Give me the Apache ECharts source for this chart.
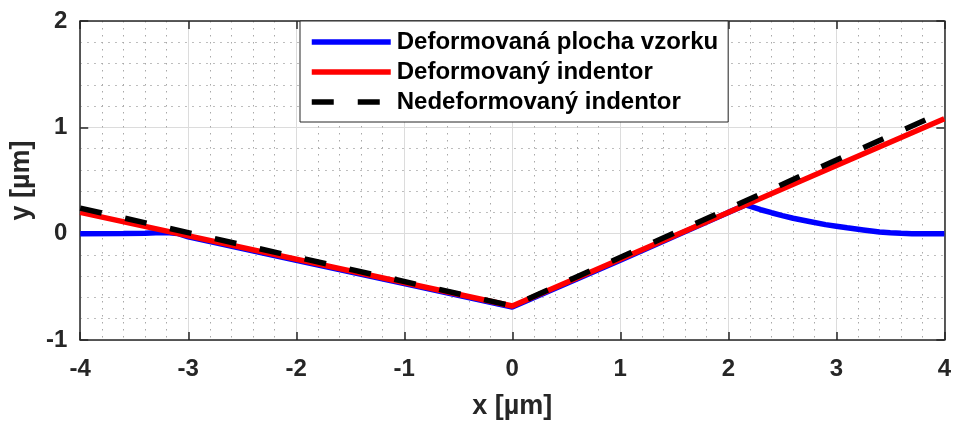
<!DOCTYPE html>
<html>
<head>
<meta charset="utf-8">
<script src="https://cdn.jsdelivr.net/npm/echarts@6/dist/echarts.min.js"></script>
<style>
  html, body { margin: 0; padding: 0; background: #fff; }
  #chart { width: 954px; height: 425px; }
</style>
</head>
<body>
<div id="chart"></div>
<script>
// data
let seriesNames = ['Deformovaná plocha vzorku', 'Deformovaný indentor', 'Nedeformovaný indentor'];
let xTicks = [-4, -3, -2, -1, 0, 1, 2, 3, 4];
let yTicks = [-1, 0, 1, 2];

// deformed sample surface
let plochaX = [-4, -3.6, -3.4, -3.3, -3.2, -3.1, -3.0, -2, -1, 0, 1, 2, 2.16, 2.3, 2.4, 2.5, 2.6, 2.75, 2.9, 3.0, 3.1, 3.25, 3.4, 3.5, 3.6, 3.7, 4];
let plochaY = [0, 0.001, 0.004, 0.008, 0.01, 0.002, -0.03, -0.25, -0.47, -0.69, -0.25, 0.2, 0.27, 0.225, 0.197, 0.17, 0.145, 0.115, 0.085, 0.07, 0.055, 0.035, 0.015, 0.008, 0.003, 0, 0];
// deformed indentor
let defIndX = [-4, 0, 4];
let defIndY = [0.20, -0.68, 1.08];
// undeformed indentor
let nedefIndX = [-4, 0, 4];
let nedefIndY = [0.24, -0.68, 1.15];

let zip = (xs, ys) => xs.map((x, i) => [x, ys[i]]);

let myChart = echarts.init(document.getElementById('chart'));

let axisCol = '#262626';
let fontFam = '"Liberation Sans", Arial, sans-serif';

let option = {
    animation: false,
    textStyle: { fontFamily: fontFam },
    grid: { left: 80, right: 9, top: 21, bottom: 79 },
    legend: {
        orient: 'vertical',
        left: 300,
        top: 21,
        padding: [9, 10, 8, 9],
        itemGap: 6,
        itemWidth: 79,
        itemHeight: 22,
        backgroundColor: '#fff',
        borderColor: axisCol,
        borderWidth: 1,
        borderRadius: 0,
        itemStyle: { opacity: 0 },
        lineStyle: { width: 5.5 },
        textStyle: { fontSize: 24, fontWeight: 'bold', color: '#000', fontFamily: fontFam, padding: [0, 0, 0, 1] },
        data: seriesNames
    },
    xAxis: [{
        type: 'value',
        min: -4, max: 4, interval: 1,
        name: 'x [µm]',
        nameLocation: 'middle',
        nameGap: 53,
        nameTextStyle: { fontSize: 27, fontWeight: 'bold', color: '#262626' },
        axisLine: { show: true, onZero: false, lineStyle: { color: axisCol, width: 1.5 } },
        axisTick: { show: true, inside: true, length: 8, lineStyle: { color: axisCol, width: 1.5 } },
        axisLabel: { fontSize: 24, fontWeight: 'bold', color: '#262626', margin: 17,
            formatter: v => xTicks.indexOf(v) >= 0 ? String(v) : '' },
        splitLine: { show: true, lineStyle: { color: '#dcdcdc', width: 1 } },
        minorTick: { show: false, splitNumber: 5 },
        minorSplitLine: { show: true, lineStyle: { color: '#a8a8a8', width: 1, type: [1.5, 5.5] } }
    }, {
        type: 'value',
        position: 'top',
        min: -4, max: 4, interval: 1,
        axisLine: { show: true, onZero: false, lineStyle: { color: axisCol, width: 1.5 } },
        axisTick: { show: true, inside: true, length: 8, lineStyle: { color: axisCol, width: 1.5 } },
        axisLabel: { show: false },
        splitLine: { show: false }
    }],
    yAxis: [{
        type: 'value',
        min: -1, max: 2, interval: 1,
        name: 'y [µm]',
        nameLocation: 'middle',
        nameGap: 45,
        nameTextStyle: { fontSize: 27, fontWeight: 'bold', color: '#262626' },
        axisLine: { show: true, onZero: false, lineStyle: { color: axisCol, width: 1.5 } },
        axisTick: { show: true, inside: true, length: 8, lineStyle: { color: axisCol, width: 1.5 } },
        axisLabel: { fontSize: 24, fontWeight: 'bold', color: '#262626', margin: 13,
            formatter: v => yTicks.indexOf(v) >= 0 ? String(v) : '' },
        splitLine: { show: true, lineStyle: { color: '#dcdcdc', width: 1 } },
        minorTick: { show: false, splitNumber: 5 },
        minorSplitLine: { show: true, lineStyle: { color: '#a8a8a8', width: 1, type: [1.5, 5.5] } }
    }, {
        type: 'value',
        position: 'right',
        min: -1, max: 2, interval: 1,
        axisLine: { show: true, onZero: false, lineStyle: { color: axisCol, width: 1.5 } },
        axisTick: { show: true, inside: true, length: 8, lineStyle: { color: axisCol, width: 1.5 } },
        axisLabel: { show: false },
        splitLine: { show: false }
    }],
    series: [{
        name: seriesNames[0],
        type: 'line',
        symbol: 'none',
        data: zip(plochaX, plochaY),
        lineStyle: { color: '#0000ff', width: 5.5 },
        itemStyle: { color: '#0000ff' },
        z: 2
    }, {
        name: seriesNames[1],
        type: 'line',
        symbol: 'none',
        data: zip(defIndX, defIndY),
        lineStyle: { color: '#ff0000', width: 5.5 },
        itemStyle: { color: '#ff0000' },
        z: 3
    }, {
        name: seriesNames[2],
        type: 'line',
        symbol: 'none',
        data: zip(nedefIndX, nedefIndY),
        lineStyle: { color: '#000000', width: 5.5, type: [22, 24] },
        itemStyle: { color: '#000000' },
        z: 4
    }]
};
myChart.setOption(option);
</script>
</body>
</html>
